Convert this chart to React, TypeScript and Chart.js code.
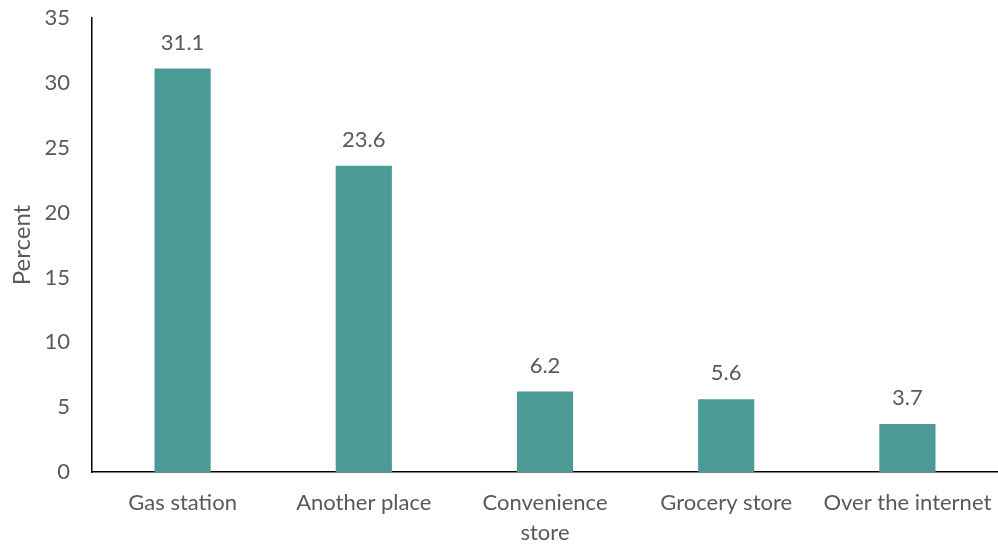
import React, { useEffect, useRef } from "react";
import { Chart, registerables } from "chart.js";

Chart.register(...registerables);

const categories: (string | string[])[] = [
  "Gas station",
  "Another place",
  ["Convenience", "store"],
  "Grocery store",
  "Over the internet",
];
const percentValues = [31.1, 23.6, 6.2, 5.6, 3.7];
const yTickMin = 0;
const yTickMax = 35;
const yTickStep = 5;

const FONT = "Lato, 'Open Sans', sans-serif";
const TEXT = "#595959";
const BAR = "#4C9A96";

const valueLabels = {
  id: "valueLabels",
  afterDatasetsDraw(chart: any) {
    const ctx = chart.ctx;
    const meta = chart.getDatasetMeta(0);
    ctx.save();
    ctx.font = `22px ${FONT}`;
    ctx.fillStyle = TEXT;
    ctx.textAlign = "center";
    ctx.textBaseline = "middle";
    meta.data.forEach((bar: any, i: number) => {
      ctx.fillText(percentValues[i].toFixed(1), bar.x, bar.y - 26);
    });
    ctx.restore();
  },
};

export default function App() {
  const ref = useRef<HTMLCanvasElement | null>(null);
  useEffect(() => {
    if (!ref.current) return;
    const chart = new Chart(ref.current, {
      type: "bar",
      data: {
        labels: categories,
        datasets: [
          {
            data: percentValues,
            backgroundColor: BAR,
            categoryPercentage: 1,
            barPercentage: 0.31,
          },
        ],
      },
      options: {
        animation: false,
        responsive: false,
        maintainAspectRatio: false,
        layout: { autoPadding: false, padding: { top: 18, right: 0, left: 0, bottom: 0 } },
        plugins: { legend: { display: false }, tooltip: { enabled: false } },
        scales: {
          x: {
            grid: { display: false, drawTicks: false },
            border: { display: true, color: "#000", width: 1.5 },
            ticks: {
              color: TEXT,
              font: { family: FONT, size: 22, lineHeight: 1.36 },
              padding: 16,
              maxRotation: 0,
              autoSkip: false,
            },
            afterFit: (s: any) => {
              s.height = 78;
              s.paddingLeft = 0;
              s.paddingRight = 0;
            },
          },
          y: {
            min: yTickMin,
            max: yTickMax,
            grid: { display: false, drawTicks: false },
            border: { display: true, color: "#000", width: 1.5 },
            ticks: {
              stepSize: yTickStep,
              color: TEXT,
              font: { family: FONT, size: 22 },
              padding: 22,
            },
            title: {
              display: true,
              text: "Percent",
              color: TEXT,
              font: { family: FONT, size: 24 },
              padding: { top: 8, bottom: 0 },
            },
            afterFit: (s: any) => {
              s.width = 92;
              s.paddingTop = 0;
              s.paddingBottom = 0;
            },
          },
        },
      },
      plugins: [valueLabels],
    });
    return () => chart.destroy();
  }, []);
  return (
    <div style={{ position: "fixed", left: 0, top: 0, width: 998, height: 550, background: "#fff" }}>
      <canvas ref={ref} width={998} height={550} style={{ width: 998, height: 550 }} />
    </div>
  );
}
